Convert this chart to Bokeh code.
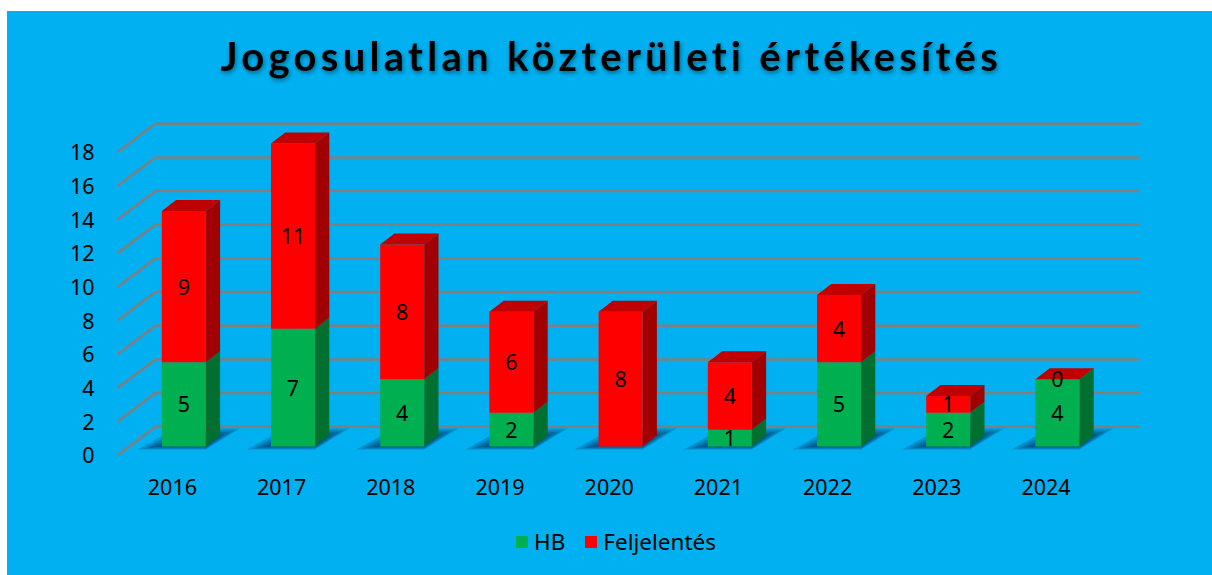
from bokeh.plotting import figure
from bokeh.layouts import column, row
from bokeh.models import Spacer, Legend, LegendItem, FixedTicker, ColumnDataSource, Title, Range1d
from bokeh.core.properties import value
from bokeh.embed import file_html
from bokeh.resources import INLINE
import numpy as np

years = [2016, 2017, 2018, 2019, 2020, 2021, 2022, 2023, 2024]
hb = [5, 7, 4, 2, 0, 1, 5, 2, 4]
feljelentes = [9, 11, 8, 6, 8, 4, 4, 1, 0]
y_ticks = [0, 2, 4, 6, 8, 10, 12, 14, 16, 18]
title_text = "Jogosulatlan közterületi értékesítés"
BG = "#00B0F0"
GREEN, GREEN_SIDE = "#00B050", "#006F30"
RED, RED_SIDE, RED_TOP = "#FF0000", "#A00000", "#C00000"
GRID = "#7F7F7F"
FONT = "Noto Sans"
FS = "21.5px"

# pixel scale of the chart's axes (page pixels)
PX_X = 109.2
PX_Y = 16.83
ORIGIN_X, ORIGIN_Y = 7, 11
LEFT, RIGHT, TOP, BOTTOM = 110, 1212, 100, 575
X_ZERO, Y_ZERO = 171.9, 454.7
AXIS_PX = 470
dx = lambda px: px / PX_X
dy = lambda px: px / PX_Y

# ---- title strip (own figure so that the letter spacing only touches the title)
pt = figure(width=1212 - ORIGIN_X, height=TOP - ORIGIN_Y, output_backend="svg", toolbar_location=None,
            x_range=Range1d(0, 1), y_range=Range1d(0, 1), x_axis_location=None, y_axis_location=None,
            min_border=0, background_fill_alpha=0, border_fill_alpha=0, outline_line_color=None,
            styles={"letter-spacing": "4.3px", "filter": "drop-shadow(1px 2px 2px rgba(0,0,0,0.45))"})
pt.grid.visible = False
pt.add_layout(Title(text=title_text, align="left", offset=110, text_font="Lato", text_font_size="40px",
                    text_font_style="bold", text_color="#000000", standoff=37), "above")

p = figure(width=1212 - ORIGIN_X, height=575 - TOP, output_backend="svg", toolbar_location=None,
           x_range=(2016 + (LEFT - X_ZERO) / PX_X, 2016 + (RIGHT - X_ZERO) / PX_X),
           y_range=((Y_ZERO - BOTTOM) / PX_Y, (Y_ZERO - TOP) / PX_Y),
           min_border_left=LEFT - ORIGIN_X, min_border_right=0, min_border_top=0, min_border_bottom=0,
           background_fill_color=BG, border_fill_color=BG, outline_line_color=None)
p.grid.visible = False

for ax, ticks in ((p.xaxis[0], years), (p.yaxis[0], y_ticks)):
    ax.ticker = FixedTicker(ticks=ticks)
    ax.axis_line_color = None
    ax.major_tick_line_color = None
    ax.minor_tick_line_color = None
    ax.major_label_text_font = FONT
    ax.major_label_text_font_size = FS
    ax.major_label_text_color = "#000000"
p.xaxis[0].major_label_standoff = 2
p.xaxis[0].fixed_location = (Y_ZERO - AXIS_PX) / PX_Y
p.yaxis[0].major_label_standoff = 10

# gridlines: floor diagonal + back wall
w_dx, w_dy = dx(38), dy(28.5)
x_left = 2016 + (117 - X_ZERO) / PX_X
x_right = 2016 + (1139 - X_ZERO) / PX_X
p.multi_line(xs=[[x_left, x_left + w_dx, x_right] for _ in y_ticks],
             ys=[[v, v + w_dy, v + w_dy] for v in y_ticks],
             line_color=GRID, line_width=2.5)

# 3-D geometry
xc = np.array(years, float) + dx(11.4)
hw = dx(22)
ddx, ddy = dx(14.3), dy(11)
base = dy(8.7)
hb_a = np.array(hb, float)
fe_a = np.array(feljelentes, float)
tot = hb_a + fe_a

# floor shadows
for k in range(6):
    ins = k * 3.2
    xs, ys = [], []
    for c in xc:
        xs.append([c + dx(-46 + ins * 1.6), c + dx(22), c + dx(56 - ins * 1.6), c + dx(-8 + ins)])
        ys.append([base - dy(3 - ins * 0.25), base - dy(3 - ins * 0.25),
                   base + dy(18 - ins * 0.6), base + dy(18 - ins * 0.6)])
    p.patches(xs, ys, fill_color="#0A2F5A", fill_alpha=0.22, line_color=None)


def side(bottom, top):
    return ([[c + hw, c + hw + ddx, c + hw + ddx, c + hw] for c, b, t_ in zip(xc, bottom, top) if t_ > b],
            [[base + b, base + b + ddy, base + t_ + ddy, base + t_] for b, t_ in zip(bottom, top) if t_ > b])


sx, sy = side(np.zeros(9), hb_a)
p.patches(sx, sy, fill_color=GREEN_SIDE, line_color=None)
sx, sy = side(hb_a, tot)
p.patches(sx, sy, fill_color=RED_SIDE, line_color=None)

r_g = p.vbar(x=xc[hb_a > 0], bottom=base, top=base + hb_a[hb_a > 0], width=2 * hw, fill_color=GREEN, line_color=None)
mask = fe_a > 0
r_r = p.vbar(x=xc[mask], bottom=base + hb_a[mask], top=base + tot[mask], width=2 * hw, fill_color=RED, line_color=None)

top_x = [[c - hw, c + hw, c + hw + ddx, c - hw + ddx] for c in xc]
top_y = [[base + v, base + v, base + v + ddy, base + v + ddy] for v in tot]
p.patches(top_x, top_y, fill_color=RED_TOP, line_color=None)

# value labels
lab_x = list(xc) + list(xc)
lab_y = [base + v / 2 for v in hb_a] + [base + h + v / 2 for h, v in zip(hb_a, fe_a)]
lab_t = [str(v) for v in hb] + [str(v) for v in feljelentes]
keep = [i for i in range(18) if not (i < 9 and hb[i] == 0)]
src = ColumnDataSource(dict(x=[lab_x[i] for i in keep], y=[lab_y[i] for i in keep], t=[lab_t[i] for i in keep]))
p.text(x="x", y="y", text="t", source=src, text_align="center", text_baseline="middle",
       text_font=value(FONT), text_font_size=FS, text_color="#000000")

legend = Legend(items=[LegendItem(label="HB", renderers=[r_g]), LegendItem(label="Feljelentés", renderers=[r_r])],
                orientation="horizontal", location=(514 - LEFT, 575 - 557), background_fill_alpha=0, border_line_color=None,
                glyph_width=15, glyph_height=15, label_text_font=FONT, label_text_font_size="22.5px",
                label_text_color="#000000", spacing=18, label_standoff=5, margin=0, padding=0)
p.add_layout(legend, "center")

chart = column(pt, p, spacing=0, styles={"background-color": BG})
layout = column(Spacer(height=ORIGIN_Y, width=10),
                row(Spacer(width=ORIGIN_X, height=10), chart, spacing=0), spacing=0)
open("out.html", "w").write(file_html(layout, INLINE))
